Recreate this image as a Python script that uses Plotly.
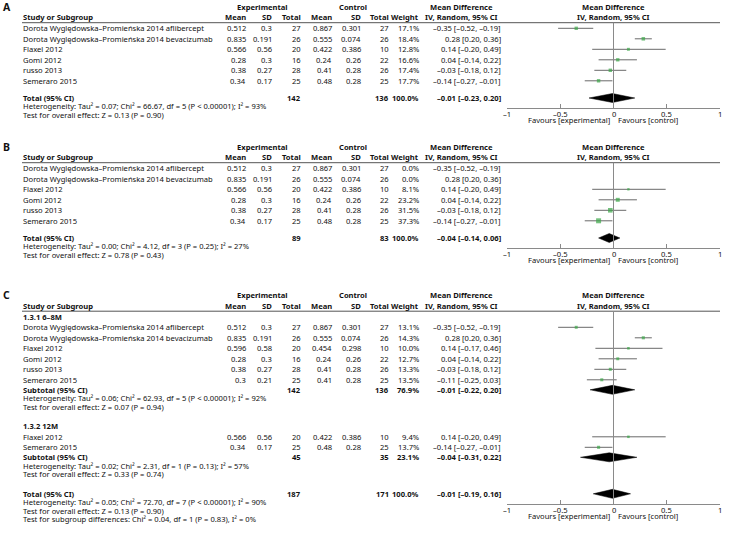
import plotly.graph_objects as go
import math

W, H = 730, 536
FONT = "Noto Sans"
FS = 7.6
TC = "#111111"
GREEN = "#3aa647"
CI_COLOR = "#6a6a6a"
AX_COLOR = "#8a8a8a"

# ---------------- data ----------------
study_names = [
    "Dorota Wyględowska–Promieńska 2014 aflibercept",
    "Dorota Wyględowska–Promieńska 2014 bevacizumab",
    "Flaxel 2012",
    "Gomi 2012",
    "russo 2013",
    "Semeraro 2015",
]
ab_exp_mean = [0.512, 0.835, 0.566, 0.28, 0.38, 0.34]
ab_exp_sd = [0.3, 0.191, 0.56, 0.3, 0.27, 0.17]
ab_exp_n = [27, 26, 20, 16, 28, 25]
ab_ctl_mean = [0.867, 0.555, 0.422, 0.24, 0.41, 0.48]
ab_ctl_sd = [0.301, 0.074, 0.386, 0.26, 0.28, 0.28]
ab_ctl_n = [27, 26, 10, 22, 26, 25]
ab_md = [-0.35, 0.28, 0.14, 0.04, -0.03, -0.14]
ab_lo = [-0.52, 0.20, -0.20, -0.14, -0.18, -0.27]
ab_hi = [-0.19, 0.36, 0.49, 0.22, 0.12, -0.01]
a_weight = [17.1, 18.4, 12.8, 16.6, 17.4, 17.7]
b_weight = [0.0, 0.0, 8.1, 23.2, 31.5, 37.3]

a_total_n = [142, 136]
a_total_est = [-0.01, -0.23, 0.20]
a_het = "Heterogeneity: Tau² = 0.07; Chi² = 66.67, df = 5 (P &lt; 0.00001); I² = 93%"
a_test = "Test for overall effect: Z = 0.13 (P = 0.90)"

b_total_n = [89, 83]
b_total_est = [-0.04, -0.14, 0.06]
b_het = "Heterogeneity: Tau² = 0.00; Chi² = 4.12, df = 3 (P = 0.25); I² = 27%"
b_test = "Test for overall effect: Z = 0.78 (P = 0.43)"

c1_label = "1.3.1 6–8M"
c1_names = study_names
c1_exp_mean = [0.512, 0.835, 0.596, 0.28, 0.38, 0.3]
c1_exp_sd = [0.3, 0.191, 0.58, 0.3, 0.27, 0.21]
c1_exp_n = [27, 26, 20, 16, 28, 25]
c1_ctl_mean = [0.867, 0.555, 0.454, 0.24, 0.41, 0.41]
c1_ctl_sd = [0.301, 0.074, 0.298, 0.26, 0.28, 0.28]
c1_ctl_n = [27, 26, 10, 22, 26, 25]
c1_weight = [13.1, 14.3, 10.0, 12.7, 13.3, 13.5]
c1_md = [-0.35, 0.28, 0.14, 0.04, -0.03, -0.11]
c1_lo = [-0.52, 0.20, -0.17, -0.14, -0.18, -0.25]
c1_hi = [-0.19, 0.36, 0.46, 0.22, 0.12, 0.03]
c1_sub_n = [142, 136]
c1_sub_w = 76.9
c1_sub_est = [-0.01, -0.22, 0.20]
c1_het = "Heterogeneity: Tau² = 0.06; Chi² = 62.93, df = 5 (P &lt; 0.00001); I² = 92%"
c1_test = "Test for overall effect: Z = 0.07 (P = 0.94)"

c2_label = "1.3.2 12M"
c2_names = ["Flaxel 2012", "Semeraro 2015"]
c2_exp_mean = [0.566, 0.34]
c2_exp_sd = [0.56, 0.17]
c2_exp_n = [20, 25]
c2_ctl_mean = [0.422, 0.48]
c2_ctl_sd = [0.386, 0.28]
c2_ctl_n = [10, 25]
c2_weight = [9.4, 13.7]
c2_md = [0.14, -0.14]
c2_lo = [-0.20, -0.27]
c2_hi = [0.49, -0.01]
c2_sub_n = [45, 35]
c2_sub_w = 23.1
c2_sub_est = [-0.04, -0.31, 0.22]
c2_het = "Heterogeneity: Tau² = 0.02; Chi² = 2.31, df = 1 (P = 0.13); I² = 57%"
c2_test = "Test for overall effect: Z = 0.33 (P = 0.74)"

c_total_n = [187, 171]
c_total_est = [-0.01, -0.19, 0.16]
c_het = "Heterogeneity: Tau² = 0.05; Chi² = 72.70, df = 7 (P &lt; 0.00001); I² = 90%"
c_test = "Test for overall effect: Z = 0.13 (P = 0.90)"
c_sub_test = "Test for subgroup differences: Chi² = 0.04, df = 1 (P = 0.83), I² = 0%"

tick_vals = [-1, -0.5, 0, 0.5, 1]
tick_text = ["–1", "–0.5", "0", "0.5", "1"]
favours_left = "Favours [experimental]"
favours_right = "Favours [control]"

# ---------------- layout constants (pixels) ----------------
COL_NAME = 22
COL_EM, COL_ESD, COL_EN = 247, 273, 302
COL_CM, COL_CSD, COL_CN = 333, 362, 390
COL_W, COL_CI = 420, 502
X_EXP_C, X_CTL_C, X_MD_C = 262, 353, 462
F_LEFT, F_RIGHT = 507, 720
X_FOREST_C = (F_LEFT + F_RIGHT) / 2
ROW = 10.5       # study row pitch
TXT = 8.5        # footnote line pitch
GAP = 19.5       # gap before next subgroup / total

annotations = []
shapes = []
traces = []


def fmt(v):
    s = f"{abs(v):.2f}"
    return ("–" + s) if v < 0 else s


def ci_text(est):
    return f"{fmt(est[0])} [{fmt(est[1])}, {fmt(est[2])}]"


def num(v):
    return f"{v:g}"


def txt(x, y, s, anchor="left", bold=False, size=FS, xref="paper"):
    annotations.append(dict(
        x=(x / W) if xref == "paper" else x, y=1 - y / H, xref=xref, yref="paper",
        text=("<b>" + s + "</b>") if bold else s,
        xanchor=anchor, yanchor="middle", showarrow=False, borderpad=0,
        font=dict(size=size, family=FONT, color=TC)))


def header(off, label):
    y1, y2 = 6.7 + off, 17 + off
    txt(2, y1, label, bold=True, size=10.5)
    txt(X_EXP_C, y1, "Experimental", "center", True)
    txt(X_CTL_C, y1, "Control", "center", True)
    txt(X_MD_C, y1, "Mean Difference", "center", True)
    txt(X_FOREST_C, y1, "Mean Difference", "center", True)
    txt(COL_NAME, y2, "Study or Subgroup", "left", True)
    for x, s in [(COL_EM, "Mean"), (COL_ESD, "SD"), (COL_EN, "Total"),
                 (COL_CM, "Mean"), (COL_CSD, "SD"), (COL_CN, "Total"),
                 (COL_W, "Weight")]:
        txt(x, y2, s, "right", True)
    txt(X_MD_C, y2, "IV, Random, 95% CI", "center", True)
    txt(X_FOREST_C, y2, "IV, Random, 95% CI", "center", True)
    ly = 22.7 + off
    shapes.append(dict(type="line", xref="paper", yref="paper",
                       x0=COL_NAME / W, x1=F_RIGHT / W, y0=1 - ly / H, y1=1 - ly / H,
                       line=dict(color="#555", width=1)))
    return ly


class Forest:
    def __init__(self, xa):
        self.xa = xa
        self.ci_x, self.ci_y = [], []
        self.sq_x, self.sq_y, self.sq_s = [], [], []

    def study(self, y, md, lo, hi, w):
        if w <= 0:
            return
        self.ci_x += [lo, hi, None]
        self.ci_y += [y, y, None]
        self.sq_x.append(md)
        self.sq_y.append(y)
        self.sq_s.append(max(2.0, 5.0 * math.sqrt(w / 37.3)))

    def diamond(self, y, est):
        md, lo, hi = est
        traces.append(go.Scatter(
            x=[lo, md, hi, md, lo], y=[y, y - 4.5, y, y + 4.5, y],
            xaxis=self.xa, yaxis="y", mode="lines", fill="toself",
            fillcolor="black", line=dict(color="black", width=0.5),
            hoverinfo="skip", showlegend=False))

    def finish(self):
        traces.append(go.Scatter(x=self.ci_x, y=self.ci_y, xaxis=self.xa, yaxis="y",
                                 mode="lines", line=dict(color=CI_COLOR, width=1),
                                 hoverinfo="skip", showlegend=False))
        traces.append(go.Scatter(x=self.sq_x, y=self.sq_y, xaxis=self.xa, yaxis="y",
                                 mode="markers",
                                 marker=dict(symbol="square", size=self.sq_s, color=GREEN,
                                             line=dict(width=0)),
                                 hoverinfo="skip", showlegend=False))


def study_rows(y0, forest, names, em, esd, en, cm, csd, cn, wts, md, lo, hi):
    y = y0
    for i in range(len(names)):
        txt(COL_NAME, y, names[i])
        txt(COL_EM, y, num(em[i]), "right")
        txt(COL_ESD, y, num(esd[i]), "right")
        txt(COL_EN, y, str(en[i]), "right")
        txt(COL_CM, y, num(cm[i]), "right")
        txt(COL_CSD, y, num(csd[i]), "right")
        txt(COL_CN, y, str(cn[i]), "right")
        txt(COL_W, y, f"{wts[i]:.1f}%", "right")
        txt(COL_CI, y, ci_text([md[i], lo[i], hi[i]]), "right")
        forest.study(y, md[i], lo[i], hi[i], wts[i])
        y += ROW
    return y - ROW


def summary_row(y, label, n, w, est, forest):
    txt(COL_NAME, y, label, "left", True)
    txt(COL_EN, y, str(n[0]), "right", True)
    txt(COL_CN, y, str(n[1]), "right", True)
    txt(COL_W, y, f"{w:.1f}%", "right", True)
    txt(COL_CI, y, ci_text(est), "right", True)
    forest.diamond(y, est)


def zero_line(xa, y0, y1):
    shapes.append(dict(type="line", xref=xa, yref="y", x0=0, x1=0, y0=y0, y1=y1,
                       line=dict(color=AX_COLOR, width=1)))


def axis_labels(xa, ax_y):
    for v, s in zip(tick_vals, tick_text):
        txt(v, ax_y + 6.0, s, "center", xref=xa)
    txt(611, ax_y + 12.3, favours_left, "right")
    txt(617, ax_y + 12.3, favours_right, "left")


axis_pos = {}

# ---------------- Panel A ----------------
off = 0
fA = Forest("x")
ly = header(off, "A")
last = study_rows(28.3 + off, fA, study_names, ab_exp_mean, ab_exp_sd, ab_exp_n,
                  ab_ctl_mean, ab_ctl_sd, ab_ctl_n, a_weight, ab_md, ab_lo, ab_hi)
ty = 98 + off
summary_row(ty, "Total (95% CI)", a_total_n, 100.0, a_total_est, fA)
txt(COL_NAME, ty + TXT, a_het)
txt(COL_NAME, ty + 2 * TXT, a_test)
ax_y = ty + 9.7
axis_pos["x"] = ax_y
zero_line("x", ly, ax_y)
axis_labels("x", ax_y)
fA.finish()

# ---------------- Panel B ----------------
off = 140
fB = Forest("x2")
ly = header(off, "B")
study_rows(28.3 + off, fB, study_names, ab_exp_mean, ab_exp_sd, ab_exp_n,
           ab_ctl_mean, ab_ctl_sd, ab_ctl_n, b_weight, ab_md, ab_lo, ab_hi)
ty = 98 + off
summary_row(ty, "Total (95% CI)", b_total_n, 100.0, b_total_est, fB)
txt(COL_NAME, ty + TXT, b_het)
txt(COL_NAME, ty + 2 * TXT, b_test)
ax_y = ty + 9.7
axis_pos["x2"] = ax_y
zero_line("x2", ly, ax_y)
axis_labels("x2", ax_y)
fB.finish()

# ---------------- Panel C ----------------
off = 288.5
fC = Forest("x3")
ly = header(off, "C")
y = 28.3 + off
txt(COL_NAME, y, c1_label, "left", True)
y += ROW
last = study_rows(y, fC, c1_names, c1_exp_mean, c1_exp_sd, c1_exp_n,
                  c1_ctl_mean, c1_ctl_sd, c1_ctl_n, c1_weight, c1_md, c1_lo, c1_hi)
y = last + 10.0
summary_row(y, "Subtotal (95% CI)", c1_sub_n, c1_sub_w, c1_sub_est, fC)
txt(COL_NAME, y + TXT, c1_het)
txt(COL_NAME, y + 2 * TXT, c1_test)
y = y + 2 * TXT + GAP
txt(COL_NAME, y, c2_label, "left", True)
y += ROW
last = study_rows(y, fC, c2_names, c2_exp_mean, c2_exp_sd, c2_exp_n,
                  c2_ctl_mean, c2_ctl_sd, c2_ctl_n, c2_weight, c2_md, c2_lo, c2_hi)
y = last + 10.0
summary_row(y, "Subtotal (95% CI)", c2_sub_n, c2_sub_w, c2_sub_est, fC)
txt(COL_NAME, y + TXT, c2_het)
txt(COL_NAME, y + 2 * TXT, c2_test)
ty = y + 2 * TXT + GAP
summary_row(ty, "Total (95% CI)", c_total_n, 100.0, c_total_est, fC)
txt(COL_NAME, ty + TXT, c_het)
txt(COL_NAME, ty + 2 * TXT, c_test)
txt(COL_NAME, ty + 3 * TXT, c_sub_test)
ax_y = ty + 9.7
axis_pos["x3"] = ax_y
zero_line("x3", ly, ax_y)
axis_labels("x3", ax_y)
fC.finish()

# ---------------- figure ----------------
fig = go.Figure(data=traces)


def xaxis_cfg(key):
    cfg = dict(domain=[F_LEFT / W, F_RIGHT / W], range=[-1, 1], anchor="free",
               position=1 - axis_pos[key] / H, showline=True, linecolor=AX_COLOR,
               linewidth=1, ticks="inside", ticklen=4, tickcolor=AX_COLOR, tickwidth=1,
               tickvals=tick_vals, showticklabels=False, showgrid=False, zeroline=False,
               fixedrange=True)
    if key != "x":
        cfg["overlaying"] = "x"
    return cfg


fig.update_layout(
    width=W, height=H, margin=dict(l=0, r=0, t=0, b=0),
    paper_bgcolor="white", plot_bgcolor="rgba(0,0,0,0)",
    xaxis=xaxis_cfg("x"), xaxis2=xaxis_cfg("x2"), xaxis3=xaxis_cfg("x3"),
    yaxis=dict(domain=[0, 1], range=[H, 0], visible=False, fixedrange=True),
    annotations=annotations, shapes=shapes, showlegend=False,
    font=dict(family=FONT, size=FS, color=TC),
)

fig.write_html("out.html", config={"displayModeBar": False},
               post_script="document.body.style.margin='0px';document.body.style.overflow='hidden';")
